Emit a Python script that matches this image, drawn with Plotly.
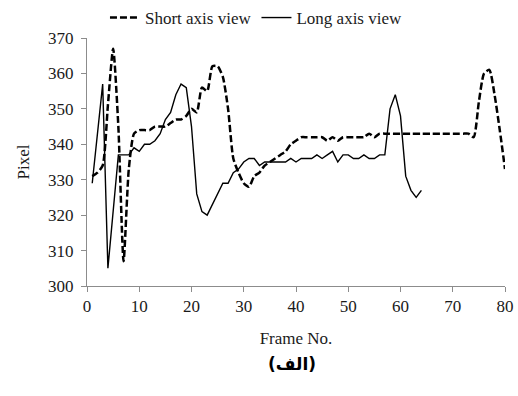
import plotly.graph_objects as go

# Frame-by-frame pixel position for the two echocardiography views
short_frames = list(range(1, 81))
short_pixels = [
    331, 332, 334, 351, 367, 345, 307, 333, 343, 344,
    344, 344, 345, 345, 345, 346, 347, 347, 348, 350,
    349, 356, 355, 362, 362, 359, 350, 336, 332, 329,
    328, 331, 332, 334, 335, 336, 337, 338, 340, 341,
    342, 342, 342, 342, 342, 341, 342, 341, 342, 342,
    342, 342, 342, 343, 342, 343, 343, 343, 343, 343,
    343, 343, 343, 343, 343, 343, 343, 343, 343, 343,
    343, 343, 343, 342, 352, 360, 361, 354, 344, 333,
]

long_frames = list(range(1, 65))
long_pixels = [
    329, 343, 357, 305, 321, 337, 337, 337, 339, 338,
    340, 340, 341, 343, 347, 349, 354, 357, 356, 345,
    326, 321, 320, 323, 326, 329, 329, 332, 333, 335,
    336, 336, 334, 335, 335, 335, 335, 335, 336, 335,
    336, 336, 336, 337, 336, 337, 338, 335, 337, 337,
    336, 336, 337, 336, 336, 337, 337, 350, 354, 348,
    331, 327, 325, 327,
]

x_ticks = [0, 10, 20, 30, 40, 50, 60, 70, 80]
y_ticks = [300, 310, 320, 330, 340, 350, 360, 370]

serif = "Liberation Serif"
ink = "#1a1a1a"
axis_grey = "#8c8c8c"
tick_font = dict(family=serif, size=17, color=ink)

fig = go.Figure()
fig.add_trace(go.Scatter(
    x=short_frames, y=short_pixels, mode="lines", name="Short axis view",
    line=dict(color="black", width=2.5, dash="7px,3px", shape="spline", smoothing=0.6),
))
fig.add_trace(go.Scatter(
    x=long_frames, y=long_pixels, mode="lines", name="Long axis view",
    line=dict(color="black", width=1.4),
))

fig.update_layout(
    width=518, height=396,
    margin=dict(l=87, r=13, t=38, b=110, autoexpand=False),
    paper_bgcolor="white", plot_bgcolor="white",
    font=dict(family=serif, size=17, color=ink),
    showlegend=True,
    legend=dict(
        orientation="h", x=0.043, xanchor="left",
        yref="container", y=1.0, yanchor="top",
        font=dict(family=serif, size=17, color=ink),
        itemwidth=30, tracegroupgap=0, bgcolor="rgba(0,0,0,0)",
    ),
    xaxis=dict(
        range=[0, 80], tickvals=x_ticks, ticks="outside", ticklen=5,
        tickcolor=axis_grey, showline=True, linecolor=axis_grey, linewidth=1,
        showgrid=False, zeroline=False, tickfont=tick_font,
        title=dict(text="Frame No.", standoff=16, font=dict(family=serif, size=17, color=ink)),
    ),
    yaxis=dict(
        range=[300, 370], tickvals=y_ticks, ticks="outside", ticklen=5,
        tickcolor=axis_grey, showline=True, linecolor=axis_grey, linewidth=1,
        showgrid=False, zeroline=False, tickfont=tick_font, ticklabelstandoff=4,
        title=dict(text="Pixel", standoff=14, font=dict(family=serif, size=17, color=ink)),
    ),
    annotations=[dict(
        text="<b>(الف)</b>", xref="paper", yref="paper", x=0.49, y=-0.363,
        showarrow=False, font=dict(family="DejaVu Sans", size=17, color="black"),
    )],
)

fig.write_html("out.html")
